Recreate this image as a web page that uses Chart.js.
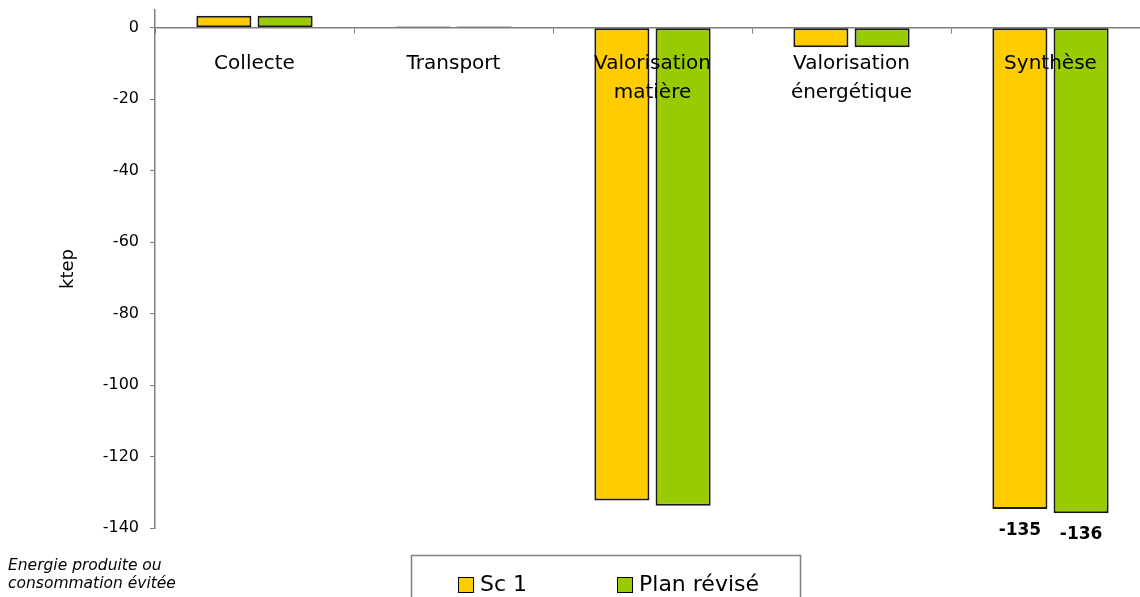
<!DOCTYPE html>
<html>
<head>
<meta charset="utf-8">
<script src="https://cdn.jsdelivr.net/npm/chart.js@4"></script>
<style>
    html, body { margin: 0; padding: 0; background: #fff; overflow: hidden; }
    #wrap { position: relative; width: 1150px; height: 597px; }
    #note {
        position: absolute; left: 8px; top: 556px;
        font: italic 15.5px "DejaVu Sans", sans-serif; line-height: 18px; color: #000;
    }
</style>
</head>
<body>
<div id="wrap">
    <canvas id="myChart" width="1150" height="597"></canvas>
    <div id="note">Energie produite ou<br>consommation évitée</div>
</div>
<script>
const categories = ['Collecte', 'Transport', ['Valorisation', 'matière'], ['Valorisation', 'énergétique'], 'Synthèse'];
const seriesNames = ['Sc 1', 'Plan révisé'];
const sc1Values = [3.4, 0.4, -132.3, -5.4, -134.7];
const planValues = [3.4, 0.4, -133.8, -5.4, -135.9];
const yTicks = [-140, -120, -100, -80, -60, -40, -20, 0];
const shownLabels = { 4: ['-135', '-136'] }; // data labels only on Synthèse

const colors = ['#FFCC00', '#99CC00'];
const fontFamily = '"DejaVu Sans", sans-serif';

// custom legend in a framed box, like the original
const boxLegend = {
    id: 'boxLegend',
    afterDraw(chart) {
        const ctx = chart.ctx;
        ctx.save();
        ctx.strokeStyle = '#808080';
        ctx.lineWidth = 1.5;
        ctx.strokeRect(411.5, 555.5, 389, 60);
        const itemX = [458, 617];
        chart.data.datasets.forEach((ds, i) => {
            ctx.fillStyle = ds.backgroundColor;
            ctx.fillRect(itemX[i], 577, 15, 15);
            ctx.strokeStyle = '#000';
            ctx.lineWidth = 1;
            ctx.strokeRect(itemX[i] + 0.5, 577.5, 15, 15);
            ctx.fillStyle = '#000';
            ctx.font = '22px ' + fontFamily;
            ctx.textBaseline = 'middle';
            ctx.textAlign = 'left';
            ctx.fillText(ds.label, itemX[i] + 22, 585);
        });
        ctx.restore();
    }
};

// bold value labels under the Synthèse bars
const valueLabels = {
    id: 'valueLabels',
    afterDatasetsDraw(chart) {
        const ctx = chart.ctx;
        ctx.save();
        ctx.font = 'bold 17px ' + fontFamily;
        ctx.fillStyle = '#000';
        ctx.textAlign = 'center';
        ctx.textBaseline = 'top';
        Object.keys(shownLabels).forEach(idx => {
            chart.data.datasets.forEach((ds, d) => {
                const bar = chart.getDatasetMeta(d).data[idx];
                ctx.fillText(shownLabels[idx][d], bar.x, bar.y + 13);
            });
        });
        ctx.restore();
    }
};

const ctx = document.getElementById('myChart').getContext('2d');
new Chart(ctx, {
    type: 'bar',
    data: {
        labels: categories,
        datasets: [
            { label: seriesNames[0], data: sc1Values, backgroundColor: colors[0] },
            { label: seriesNames[1], data: planValues, backgroundColor: colors[1] }
        ].map(ds => Object.assign(ds, {
            borderColor: '#1a1a1a',
            borderWidth: 2,
            borderSkipped: false,
            categoryPercentage: 0.615,
            barPercentage: 0.9
        }))
    },
    options: {
        responsive: false,
        animation: false,
        layout: { padding: { top: 10, bottom: 69, left: 0, right: 0 } },
        plugins: {
            legend: { display: false },
            tooltip: { enabled: false }
        },
        scales: {
            x: {
                position: { y: 0 },
                grid: {
                    offset: true,
                    drawOnChartArea: false,
                    drawTicks: true,
                    tickLength: 5,
                    color: '#808080'
                },
                border: { color: '#808080', width: 1.5 },
                ticks: {
                    z: 1,
                    autoSkip: false,
                    maxRotation: 0,
                    padding: 16,
                    color: '#000',
                    font: { family: fontFamily, size: 20, lineHeight: 1.45 }
                }
            },
            y: {
                min: -140,
                max: 5,
                afterBuildTicks: scale => {
                    scale.ticks = yTicks.map(v => ({ value: v }));
                },
                afterFit: scale => {
                    scale.width = 155;
                    scale.paddingTop = 0;
                    scale.paddingBottom = 0;
                },
                grid: {
                    drawOnChartArea: false,
                    drawTicks: true,
                    tickLength: 5,
                    color: '#808080'
                },
                border: { color: '#808080', width: 1.5 },
                title: {
                    display: true,
                    text: 'ktep',
                    color: '#000',
                    font: { family: fontFamily, size: 18 },
                    padding: { top: 58, bottom: 0 }
                },
                ticks: {
                    padding: 11,
                    color: '#000',
                    font: { family: fontFamily, size: 16 }
                }
            }
        }
    },
    plugins: [boxLegend, valueLabels]
});
</script>
</body>
</html>
